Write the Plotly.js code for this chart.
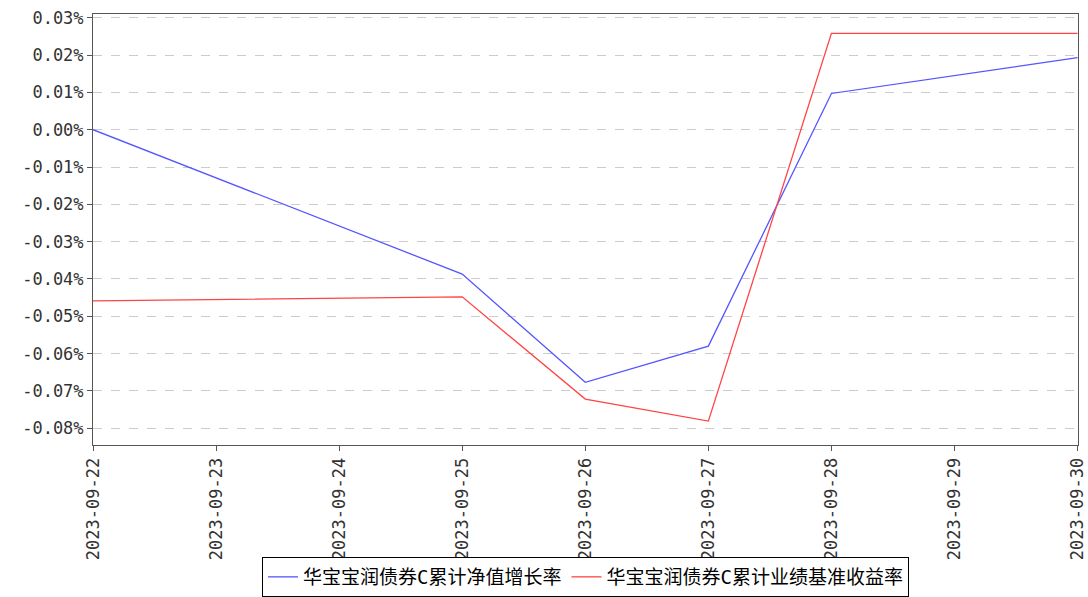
<!DOCTYPE html>
<html>
<head>
<meta charset="utf-8">
<script src="https://cdn.plot.ly/plotly-3.0.1.min.js"></script>
<style>body{margin:0;background:#fff}#chart{width:1088px;height:597px}</style>
</head>
<body>
<div id="chart"></div>
<script>
// dates with data points
const dates = ["2023-09-22", "2023-09-25", "2023-09-26", "2023-09-27", "2023-09-28", "2023-09-30"];
// values in percent
const navGrowth = [0.0, -0.0387, -0.0677, -0.058, 0.0097, 0.0193];
const benchmark = [-0.0459, -0.0448, -0.0722, -0.0781, 0.0258, 0.0258];

const tickDates = ["2023-09-22", "2023-09-23", "2023-09-24", "2023-09-25", "2023-09-26", "2023-09-27", "2023-09-28", "2023-09-29", "2023-09-30"];
const yTicks = [0.03, 0.02, 0.01, 0, -0.01, -0.02, -0.03, -0.04, -0.05, -0.06, -0.07, -0.08];
const yLabels = yTicks.map(v => v.toFixed(2) + "%");

const font = "DejaVu Sans Mono, Noto Sans CJK SC, sans-serif";

const data = [
  {
    x: dates, y: navGrowth, type: "scatter", mode: "lines",
    name: "华宝宝润债券C累计净值增长率",
    line: { color: "#5555ff", width: 1.3 }
  },
  {
    x: dates, y: benchmark, type: "scatter", mode: "lines",
    name: "华宝宝润债券C累计业绩基准收益率",
    line: { color: "#ff4444", width: 1.3 }
  }
];

const layout = {
  width: 1088, height: 597,
  paper_bgcolor: "#fff", plot_bgcolor: "#fff",
  margin: { l: 93, r: 10, t: 14, b: 152 },
  font: { family: font, size: 17, color: "#333" },
  showlegend: true,
  legend: {
    orientation: "h", x: 0.5, xanchor: "center",
    yref: "container", y: -0.01, yanchor: "bottom",
    bordercolor: "#000", borderwidth: 1, font: { size: 19, color: "#000" },
    itemwidth: 30
  },
  xaxis: {
    type: "date", range: ["2023-09-22", "2023-09-30 00:05"],
    tickvals: tickDates, ticktext: tickDates, tickangle: -90,
    showgrid: false, automargin: false,
    showline: true, linecolor: "#555", mirror: true,
    ticks: "outside", ticklen: 5, tickcolor: "#555",
    zeroline: false
  },
  yaxis: {
    range: [-0.0845, 0.031], automargin: false,
    tickvals: yTicks, ticktext: yLabels,
    showgrid: true, gridcolor: "#ccc", griddash: "dash",
    showline: true, linecolor: "#555", mirror: true,
    ticks: "outside", ticklen: 5, tickcolor: "#555",
    zeroline: false
  }
};

Plotly.newPlot("chart", data, layout, { displayModeBar: false });
</script>
</body>
</html>
